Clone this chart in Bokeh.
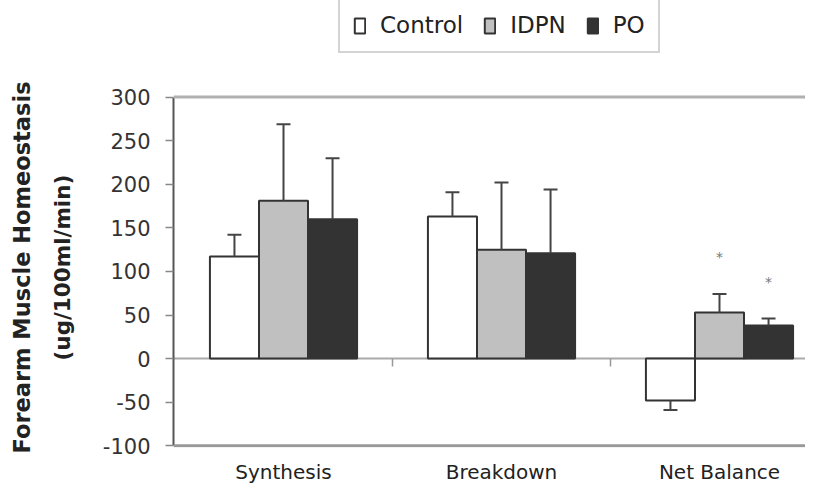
import numpy as np
from bokeh.plotting import figure
from bokeh.models import (Legend, LegendItem, Span, FixedTicker, Range1d, Title,
                          LinearAxis)
from bokeh.core.properties import value
from bokeh.embed import file_html
from bokeh.resources import INLINE

# ---- data ----
categories = ["Synthesis", "Breakdown", "Net Balance"]
series = ["Control", "IDPN", "PO"]
control = [117, 163, -48]
control_sd = [25, 28, 11]
idpn = [181, 125, 53]
idpn_sd = [88, 77, 21]
po = [160, 121, 38]
po_sd = [70, 73, 8]
significant_idpn = [False, False, True]
significant_po = [False, False, True]
y_ticks = [-100, -50, 0, 50, 100, 150, 200, 250, 300]
y_tick_labels = ["-100", "-50", "0", "50", "100", "150", "200", "250", "300"]
y_title = ["Forearm Muscle Homeostasis", "(ug/100ml/min)"]

values = [control, idpn, po]
sds = [control_sd, idpn_sd, po_sd]
sigs = [[False] * len(categories), significant_idpn, significant_po]
fills = ["#ffffff", "#c0c0c0", "#333333"]

FONT = "DejaVu Sans"
y_lo, y_hi = y_ticks[0], y_ticks[-1]

# frame spans the whole upper area so the legend can sit inside it
p = figure(width=805, height=486, output_backend="svg", toolbar_location=None,
           x_range=Range1d(0.4954, 3.3945), y_range=Range1d(y_lo - 2, y_hi + 110.86),
           min_border_left=173, min_border_right=0, min_border_top=0,
           min_border_bottom=37)
p.outline_line_color = None
p.xgrid.visible = False
p.ygrid.visible = False
p.background_fill_color = "white"
p.border_fill_color = "white"

# horizontal reference lines
p.add_layout(Span(location=0, dimension="width", line_color="#aaaaaa",
                  line_width=2, level="underlay"))
p.add_layout(Span(location=y_hi, dimension="width", line_color="#b0b0b0",
                  line_width=3))
p.add_layout(Span(location=y_lo, dimension="width", line_color="#999999",
                  line_width=3))

centers = np.arange(1, len(categories) + 1)
bar_w = 0.225
cap = 0.032
offsets = (np.arange(len(series)) - (len(series) - 1) / 2) * bar_w

# category separator ticks on the zero line
bounds = centers[:-1] + 0.5
p.segment(x0=bounds, y0=np.zeros(len(bounds)), x1=bounds,
          y1=np.full(len(bounds), -9.0), line_color="#999999", line_width=1.5)

items = []
for i, name in enumerate(series):
    xs = centers + offsets[i]
    vals = np.array(values[i], dtype=float)
    sd = np.array(sds[i], dtype=float)
    r = p.vbar(x=xs, width=bar_w, top=vals, bottom=0, fill_color=fills[i],
               line_color="#333333", line_width=2)
    items.append(LegendItem(label=name, renderers=[r]))
    tip = vals + np.sign(vals) * sd
    p.segment(x0=xs, y0=vals, x1=xs, y1=tip, line_color="#444444", line_width=2)
    p.segment(x0=xs - cap, y0=tip, x1=xs + cap, y1=tip, line_color="#444444",
              line_width=2)
    sig = np.array(sigs[i])
    if sig.any():
        p.text(x=xs[sig], y=tip[sig] + 42, text=["*"] * int(sig.sum()),
               text_font=value(FONT), text_font_size="14px", text_color="#777777",
               text_align="center", text_baseline="middle")

legend = Legend(items=items, orientation="horizontal", location=(165, 394),
                border_line_color="#aaaaaa", border_line_width=2,
                background_fill_color="white", background_fill_alpha=1,
                label_text_font=FONT, label_text_font_size="23px",
                label_text_color="#222222", glyph_width=13, glyph_height=19,
                label_standoff=14, spacing=20, padding=13, margin=0)
p.add_layout(legend)

# x axis: category labels only
xa = p.below[0]
xa.ticker = FixedTicker(ticks=[int(c) for c in centers])
xa.major_label_overrides = {int(c): cat for c, cat in zip(centers, categories)}
xa.axis_line_color = None
xa.major_tick_line_color = None
xa.minor_tick_line_color = None
xa.major_tick_out = 0
xa.major_tick_in = 0
xa.major_label_standoff = 12
xa.major_label_text_font = FONT
xa.major_label_text_font_size = "20px"
xa.major_label_text_color = "#222222"

# y axis with ticks
ya = p.left[0]
ya.ticker = FixedTicker(ticks=y_ticks)
ya.bounds = (y_lo, y_hi)
ya.major_label_overrides = {t: l for t, l in zip(y_ticks, y_tick_labels)}
ya.axis_line_color = "#555555"
ya.axis_line_width = 2
ya.major_tick_out = 8
ya.major_tick_in = 0
ya.major_tick_line_color = "#888888"
ya.major_tick_line_width = 1.5
ya.minor_tick_line_color = None
ya.major_label_standoff = 15
ya.major_label_text_font = FONT
ya.major_label_text_font_size = "21px"
ya.major_label_text_color = "#333333"

# blank gap between the tick labels and the y title (invisible axis)
gap = LinearAxis(ticker=FixedTicker(ticks=[y_lo]), axis_line_color=None,
                 major_tick_out=14, major_tick_in=0, minor_tick_out=0,
                 minor_tick_in=0, major_label_standoff=0,
                 major_label_text_font_size="1px", major_label_text_color=None,
                 major_tick_line_color=None, minor_tick_line_color=None)
p.add_layout(gap, "left")

# two-line y title as side titles, placed along the -100..300 span
for txt, size, stand, off in [(y_title[1], "21.5px", 22, 87),
                              (y_title[0], "22.5px", 4, -6)]:
    p.add_layout(Title(text=txt, align="left", offset=off, standoff=stand,
                       text_font=FONT, text_font_style="bold",
                       text_font_size=size, text_color="#222222"), "left")

open("out.html", "w").write(file_html(p, INLINE))
